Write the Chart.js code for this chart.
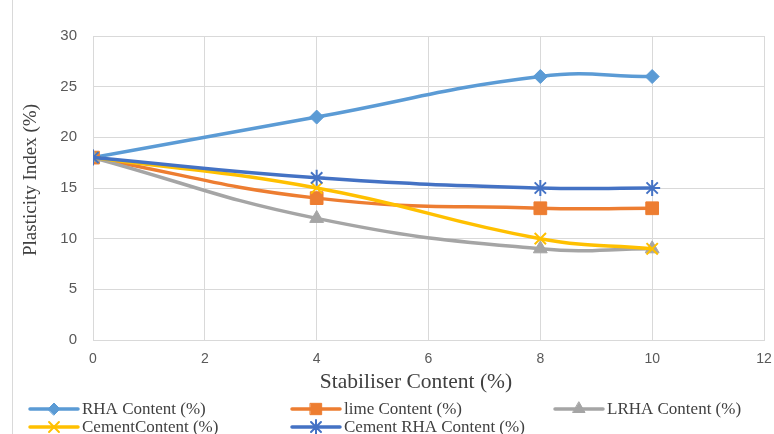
<!DOCTYPE html>
<html>
<head>
<meta charset="utf-8">
<script src="https://cdn.jsdelivr.net/npm/chart.js@4.4.1/dist/chart.umd.min.js"></script>
<style>
  html, body { margin: 0; padding: 0; background: #fff; }
  #wrap { position: relative; width: 774px; height: 434px; }
  #wrap:before { content: ''; position: absolute; left: 12px; top: 0; bottom: 0; border-left: 1px solid #d9d9d9; }
</style>
</head>
<body>
<div id="wrap"><canvas id="chart" width="774" height="434"></canvas></div>
<script>
// stabiliser content (%)
const stabiliser = [0, 4, 8, 10];

const rhaContent = [18, 22, 26, 26];
const limeContent = [18, 14, 13, 13];
const lrhaContent = [18, 12, 9, 9];
const cementContent = [18, 15, 10, 9];
const cementRhaContent = [18, 16, 15, 15];

const seriesNames = ['RHA Content (%)', 'lime Content (%)', 'LRHA Content (%)', 'CementContent (%)', 'Cement RHA Content (%)'];
const seriesColors = ['#5B9BD5', '#ED7D31', '#A5A5A5', '#FFC000', '#4472C4'];
const seriesMarkers = ['rectRot', 'rect', 'triangle', 'crossRot', 'star'];
const seriesRadius = [7, 9, 8, 8, 8];

const xTicks = [0, 2, 4, 6, 8, 10, 12];
const yTicks = [0, 5, 10, 15, 20, 25, 30];

const xTitle = 'Stabiliser Content (%)';
const yTitle = 'Plasticity Index (%)';

const allValues = [rhaContent, limeContent, lrhaContent, cementContent, cementRhaContent];

function toPoints(vals) {
    return stabiliser.map((x, i) => ({ x: x, y: vals[i] }));
}

const datasets = allValues.map((vals, i) => {
    let open = seriesMarkers[i] === 'crossRot' || seriesMarkers[i] === 'star';
    return {
        label: seriesNames[i],
        data: toPoints(vals),
        borderColor: seriesColors[i],
        backgroundColor: seriesColors[i],
        borderWidth: 3.5,
        tension: 0.45,
        pointStyle: seriesMarkers[i],
        pointRadius: seriesRadius[i],
        pointBorderWidth: open ? 2 : 1,
        pointBackgroundColor: seriesColors[i],
        pointBorderColor: seriesColors[i],
        order: allValues.length - i,
        showLine: true
    };
});

// axis titles, drawn by hand so they sit where the original has them
const axisTitles = {
    id: 'axisTitles',
    afterDraw(chart) {
        const ctx = chart.ctx;
        ctx.save();
        ctx.fillStyle = '#404040';
        ctx.textAlign = 'center';
        ctx.textBaseline = 'middle';

        // x title
        ctx.font = '21.5px "Liberation Serif", "Times New Roman", serif';
        ctx.fillText(xTitle, 416, 382);

        // y title
        ctx.save();
        ctx.font = '19px "Liberation Serif", "Times New Roman", serif';
        ctx.translate(31, 180);
        ctx.rotate(-Math.PI / 2);
        ctx.fillText(yTitle, 0, 0);
        ctx.restore();

        ctx.restore();
    }
};

// legend laid out in fixed columns like the original
const columnLegend = {
    id: 'columnLegend',
    afterDraw(chart) {
        const ctx = chart.ctx;
        const cols = [30, 292, 555];
        const rows = [409, 427];
        ctx.save();
        ctx.font = '17px "Liberation Serif", "Times New Roman", serif';
        ctx.textBaseline = 'middle';
        seriesNames.forEach((name, i) => {
            let x = cols[i % 3];
            let y = rows[Math.floor(i / 3)];
            ctx.strokeStyle = seriesColors[i];
            ctx.lineWidth = 3.5;
            ctx.lineCap = 'round';
            ctx.beginPath();
            ctx.moveTo(x, y);
            ctx.lineTo(x + 48, y);
            ctx.stroke();
            ctx.fillStyle = seriesColors[i];
            let open = seriesMarkers[i] === 'crossRot' || seriesMarkers[i] === 'star';
            ctx.lineWidth = open ? 2 : 1;
            Chart.helpers.drawPoint(ctx, {
                pointStyle: seriesMarkers[i],
                radius: seriesRadius[i] - 1,
                rotation: 0,
                borderWidth: ctx.lineWidth
            }, x + 24, y);
            ctx.fillStyle = '#404040';
            ctx.fillText(name, x + 52, y + 1);
        });
        ctx.restore();
    }
};

new Chart(document.getElementById('chart'), {
    type: 'scatter',
    data: { datasets: datasets },
    options: {
        responsive: false,
        animation: false,
        layout: { padding: { left: 14, right: 0, top: 36, bottom: 40 } },
        plugins: {
            legend: { display: false },
            tooltip: { enabled: false }
        },
        scales: {
            x: {
                type: 'linear',
                min: 0,
                max: 12,
                afterBuildTicks: (axis) => { axis.ticks = xTicks.map(v => ({ value: v })); },
                afterFit: (axis) => {
                    axis.height = 54;
                    axis.paddingLeft = 0;
                    axis.paddingRight = 7;
                },
                grid: { color: '#d9d9d9', lineWidth: 1, drawTicks: false },
                border: { color: '#d9d9d9' },
                ticks: {
                    padding: 11,
                    color: '#595959',
                    font: { family: '"Liberation Sans", Arial, sans-serif', size: 14 }
                },
                title: { display: false }
            },
            y: {
                min: 0,
                max: 30,
                afterBuildTicks: (axis) => { axis.ticks = yTicks.map(v => ({ value: v })); },
                afterFit: (axis) => {
                    axis.width = 79;
                    axis.paddingTop = 0;
                    axis.paddingBottom = 0;
                },
                grid: { color: '#d9d9d9', lineWidth: 1, drawTicks: false },
                border: { color: '#d9d9d9' },
                ticks: {
                    padding: 16,
                    color: '#595959',
                    font: { family: '"Liberation Sans", Arial, sans-serif', size: 15 }
                },
                title: { display: false }
            }
        }
    },
    plugins: [axisTitles, columnLegend]
});
</script>
</body>
</html>
